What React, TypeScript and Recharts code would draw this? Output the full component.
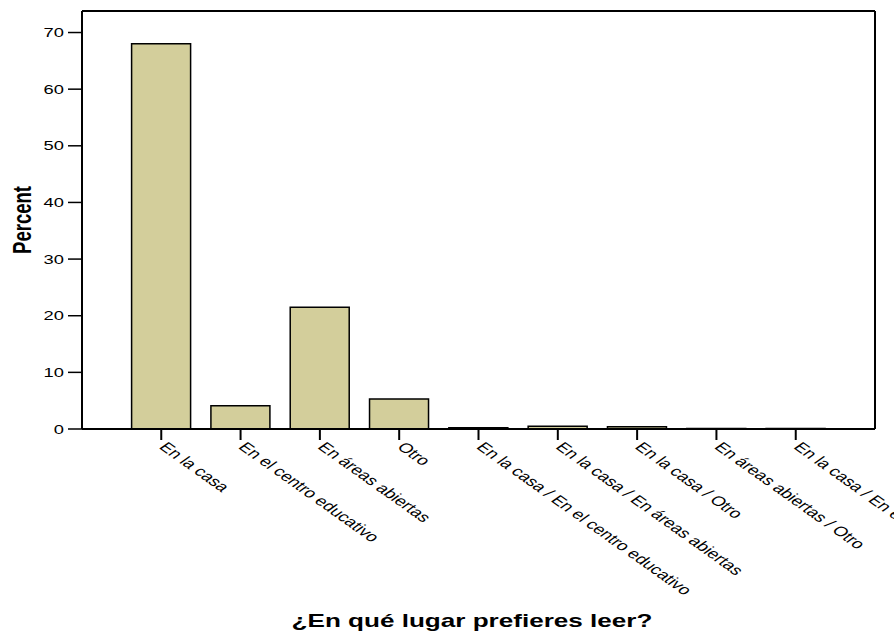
import { BarChart, Bar, XAxis, YAxis } from 'recharts'

const categories = [
  'En la casa',
  'En el centro educativo',
  'En áreas abiertas',
  'Otro',
  'En la casa / En el centro educativo',
  'En la casa / En áreas abiertas',
  'En la casa / Otro',
  'En áreas abiertas / Otro',
  'En la casa / En el centro educativo / Otro',
]
const percents = [68.0, 4.1, 21.5, 5.3, 0.2, 0.5, 0.4, 0.1, 0.1]
const yTicks = [0, 10, 20, 30, 40, 50, 60, 70]

const FONT = '"Liberation Sans", Arial, sans-serif'
const BAR_FILL = '#D3CE9B'
// the original output is stretched sideways, text included
const STRETCH = 1.41

const data = categories.map((name, i) => ({ name, percent: percents[i] }))

function SlantedTick(props: any) {
  const { x, y, payload } = props
  return (
    <g transform={`translate(${x},${y}) scale(${STRETCH},1) rotate(45)`}>
      <text x={0} y={0} dx={4} dy={7} textAnchor="start" fontSize={13.6} fontFamily={FONT} fill="#000">
        {payload.value}
      </text>
    </g>
  )
}

function ValueTick(props: any) {
  const { x, y, payload } = props
  return (
    <g transform={`translate(${x},${y}) scale(${STRETCH},1)`}>
      <text x={0} y={0} dy={4.5} textAnchor="end" fontSize={13} fontFamily={FONT} fill="#000">
        {payload.value}
      </text>
    </g>
  )
}

function PercentLabel(props: any) {
  const { viewBox } = props
  const cx = 31
  const cy = viewBox.y + viewBox.height / 2
  return (
    <g transform={`translate(${cx},${cy}) scale(${STRETCH},1) rotate(-90)`}>
      <text x={0} y={0} textAnchor="middle" fontSize={18.5} fontWeight="bold" fontFamily={FONT} fill="#000">
        Percent
      </text>
    </g>
  )
}

function TitleLabel(props: any) {
  const { viewBox } = props
  const cx = 472
  const cy = viewBox.y + 198
  return (
    <g transform={`translate(${cx},${cy}) scale(${STRETCH},1)`}>
      <text x={0} y={0} textAnchor="middle" fontSize={18.5} fontWeight="bold" fontFamily={FONT} fill="#000">
        ¿En qué lugar prefieres leer?
      </text>
    </g>
  )
}

export default function App() {
  return (
    <div style={{ position: 'absolute', left: 0, top: 0, width: 894, height: 633, background: '#fff', overflow: 'hidden' }}>
      <BarChart
        width={894}
        height={633}
        data={data}
        margin={{ top: 10, right: 18, bottom: 0, left: 0 }}
      >
        <XAxis
          dataKey="name"
          interval={0}
          height={204}
          padding={{ left: 39.6, right: 39.6 }}
          axisLine={{ stroke: '#000', strokeWidth: 2 }}
          tickLine={{ stroke: '#000', strokeWidth: 2 }}
          tickSize={11}
          tickMargin={0}
          tick={<SlantedTick />}
          label={<TitleLabel />}
        />
        <XAxis
          xAxisId="top"
          dataKey="name"
          orientation="top"
          height={1}
          tick={false}
          tickLine={false}
          axisLine={{ stroke: '#000', strokeWidth: 2 }}
        />
        <YAxis
          width={82}
          domain={[0, 73.8]}
          ticks={yTicks}
          allowDataOverflow
          axisLine={{ stroke: '#000', strokeWidth: 2 }}
          tickLine={{ stroke: '#000', strokeWidth: 1.5 }}
          tickSize={14}
          tickMargin={4}
          tick={<ValueTick />}
          label={<PercentLabel />}
        />
        <YAxis
          yAxisId="right"
          orientation="right"
          width={1}
          domain={[0, 73.8]}
          tick={false}
          tickLine={false}
          axisLine={{ stroke: '#000', strokeWidth: 2 }}
        />
        <Bar
          dataKey="percent"
          barSize={59}
          fill={BAR_FILL}
          stroke="#000"
          strokeWidth={1.5}
          isAnimationActive={false}
        />
      </BarChart>
    </div>
  )
}
